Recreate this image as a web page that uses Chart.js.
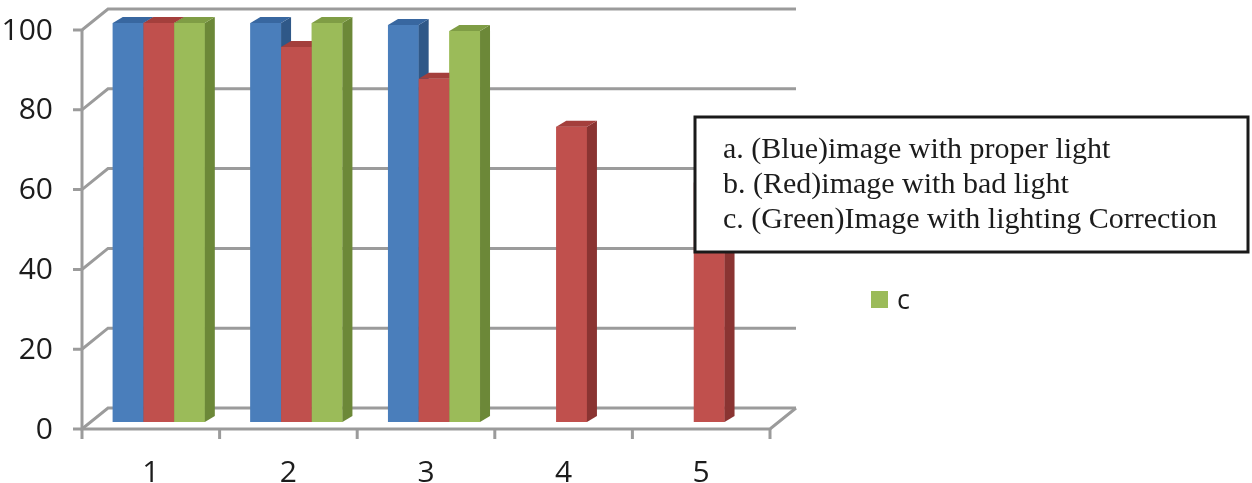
<!DOCTYPE html>
<html>
<head>
<meta charset="utf-8">
<script src="https://cdn.jsdelivr.net/npm/chart.js@4/dist/chart.umd.min.js"></script>
<style>
  html, body { margin: 0; padding: 0; background: #ffffff; }
  #wrap { position: relative; width: 1252px; height: 483px; }
</style>
</head>
<body>
<div id="wrap"><canvas id="c"></canvas></div>
<script>
// ---- data ----
const categories = ['1', '2', '3', '4', '5'];
const seriesNames = ['a', 'b', 'c'];
const blueValues = [100, 100, 99.5, null, null];
const redValues = [100, 94, 86, 74, 60];
const greenValues = [100, 100, 98, null, null];
const yMin = 0;
const yMax = 100;
const yStep = 20;
const legendLines = [
  'a. (Blue)image with proper light',
  'b. (Red)image with bad light',
  'c. (Green)Image with lighting Correction'
];

// ---- style ----
const faceColors = ['#4A7EBB', '#C0504D', '#9BBB59'];
const sideColors = ['#2F5888', '#8A3432', '#6C8838'];
const topColors = ['#3867A0', '#A43F3C', '#7F9D45'];
const gridColor = '#9b9b9b';
const textColor = '#1c1c1c';
const barDepth = { dx: 10, dy: -6 };
const frontPlane = { dx: -8, dy: 7 };
const backPlane = { dx: 18, dy: -14 };

const grid3d = {
  id: 'grid3d',
  beforeDatasetsDraw(chart) {
    const { ctx, chartArea } = chart;
    const x = chart.scales.x, y = chart.scales.y;
    const fl = chartArea.left + frontPlane.dx, fr = chartArea.right + frontPlane.dx;
    const bl = chartArea.left + backPlane.dx, br = chartArea.right + backPlane.dx;
    ctx.save();
    ctx.strokeStyle = gridColor;
    ctx.lineWidth = 3;
    ctx.lineJoin = 'miter';
    y.ticks.forEach(t => {
      const py = y.getPixelForValue(t.value);
      const fy = py + frontPlane.dy, by = py + backPlane.dy;
      ctx.beginPath();
      ctx.moveTo(fl - 9, fy);
      ctx.lineTo(fl, fy);
      ctx.lineTo(bl, by);
      ctx.lineTo(br, by);
      ctx.stroke();
    });
    const p0 = y.getPixelForValue(yMin), pTop = y.getPixelForValue(yMax);
    ctx.beginPath();
    ctx.moveTo(fl, pTop + frontPlane.dy);
    ctx.lineTo(fl, p0 + frontPlane.dy);
    ctx.lineTo(fr, p0 + frontPlane.dy);
    ctx.lineTo(br, p0 + backPlane.dy);
    ctx.stroke();
    const w = x.getPixelForValue(1) - x.getPixelForValue(0);
    const start = x.getPixelForValue(0) - w / 2 + frontPlane.dx;
    for (let i = 0; i <= categories.length; i++) {
      const px = start + i * w;
      ctx.beginPath();
      ctx.moveTo(px, p0 + frontPlane.dy);
      ctx.lineTo(px, p0 + frontPlane.dy + 10);
      ctx.stroke();
    }
    ctx.restore();
  },
  afterDatasetsDraw(chart) {
    // redraw the bars back-to-front as 3D blocks, series a first so later series sit in front
    const { ctx } = chart;
    ctx.save();
    chart.data.datasets.forEach((ds, i) => {
      const meta = chart.getDatasetMeta(i);
      meta.data.forEach((el, k) => {
        const v = ds.data[k];
        if (v === null || v === undefined || v === 0) return;
        const l = el.x - el.width / 2, r = el.x + el.width / 2;
        const t = el.y, b = el.base;
        ctx.fillStyle = faceColors[i];
        ctx.fillRect(l, t, r - l, b - t);
        ctx.fillStyle = sideColors[i];
        ctx.beginPath();
        ctx.moveTo(r, t);
        ctx.lineTo(r + barDepth.dx, t + barDepth.dy);
        ctx.lineTo(r + barDepth.dx, b + barDepth.dy);
        ctx.lineTo(r, b);
        ctx.closePath();
        ctx.fill();
        ctx.fillStyle = topColors[i];
        ctx.beginPath();
        ctx.moveTo(l, t);
        ctx.lineTo(l + barDepth.dx, t + barDepth.dy);
        ctx.lineTo(r + barDepth.dx, t + barDepth.dy);
        ctx.lineTo(r, t);
        ctx.closePath();
        ctx.fill();
      });
    });
    ctx.restore();
  },
  afterDraw(chart) {
    const { ctx } = chart;
    ctx.save();
    // leftover series entry of the original legend
    ctx.fillStyle = faceColors[2];
    ctx.fillRect(871, 291, 17, 17);
    ctx.fillStyle = textColor;
    ctx.font = '27px "Open Sans"';
    ctx.textBaseline = 'alphabetic';
    ctx.fillText(seriesNames[2], 897, 309);
    // legend box
    ctx.fillStyle = '#ffffff';
    ctx.fillRect(695, 117, 553, 135);
    ctx.strokeStyle = '#1a1a1a';
    ctx.lineWidth = 3;
    ctx.strokeRect(695, 117, 553, 135);
    ctx.fillStyle = textColor;
    ctx.font = '30px "Liberation Serif"';
    legendLines.forEach((s, j) => ctx.fillText(s, 723, 158 + j * 35));
    ctx.restore();
  }
};

new Chart(document.getElementById('c'), {
  type: 'bar',
  data: {
    labels: categories,
    datasets: [
      { label: seriesNames[0], data: blueValues, backgroundColor: faceColors[0] },
      { label: seriesNames[1], data: redValues, backgroundColor: faceColors[1] },
      { label: seriesNames[2], data: greenValues, backgroundColor: faceColors[2] }
    ]
  },
  options: {
    responsive: true,
    maintainAspectRatio: false,
    animation: false,
    layout: { padding: { top: 23, right: 474, left: 0, bottom: 0 } },
    datasets: { bar: { categoryPercentage: 0.669, barPercentage: 1, borderWidth: 0 } },
    plugins: { legend: { display: false }, tooltip: { enabled: false } },
    scales: {
      x: {
        grid: { display: false, drawTicks: false },
        border: { display: false },
        ticks: { color: textColor, font: { family: 'Open Sans', size: 30 }, padding: 33, labelOffset: -8 },
        afterFit(s) { s.height = 61; s.paddingLeft = 0; s.paddingRight = 0; }
      },
      y: {
        min: yMin, max: yMax,
        grid: { display: false, drawTicks: false },
        border: { display: false },
        ticks: { stepSize: yStep, color: textColor, font: { family: 'Open Sans', size: 30 }, padding: 37, labelOffset: 8 },
        afterFit(s) { s.width = 90; s.paddingTop = 0; s.paddingBottom = 0; }
      }
    }
  },
  plugins: [grid3d]
});
</script>
</body>
</html>
